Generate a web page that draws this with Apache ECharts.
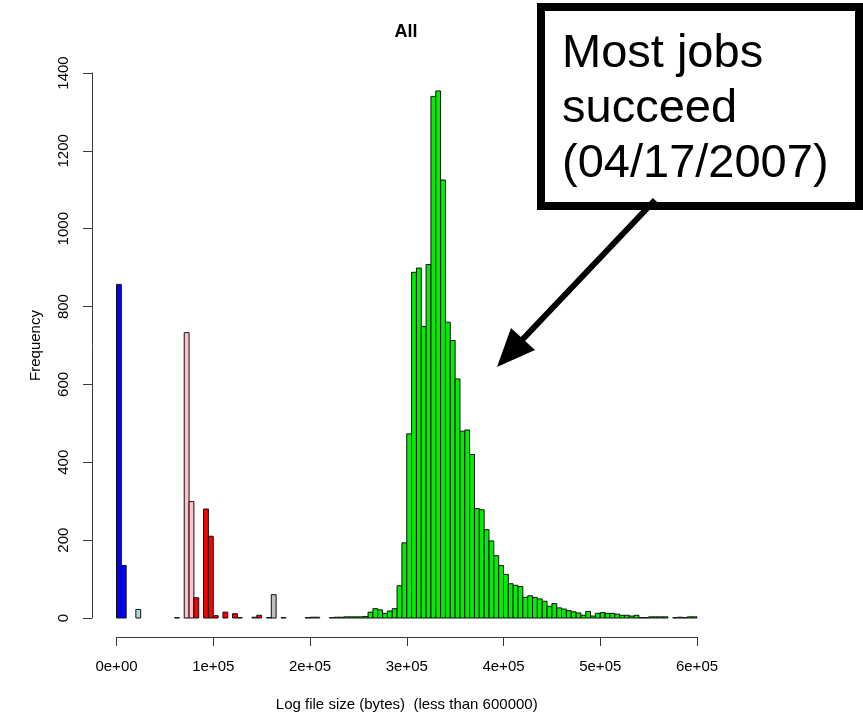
<!DOCTYPE html>
<html>
<head>
<meta charset="utf-8">
<title>All</title>
<script src="https://cdn.jsdelivr.net/npm/echarts@6/dist/echarts.min.js"></script>
<style>
  html, body { margin: 0; padding: 0; background: #ffffff; }
  #chart { width: 863px; height: 717px; }
</style>
</head>
<body>
<div id="chart"></div>
<script>
// Histogram of log file sizes, 5000-byte bins. Each pair is [bin start, count].
const binWidth = 5000;

const blueBins = [[0, 857], [5000, 135]];
const lightBlueBins = [[20000, 22]];
const pinkBins = [[70000, 733], [75000, 299]];
const redBins = [[80000, 52], [90000, 280], [95000, 210], [100000, 6], [110000, 15], [120000, 11], [145000, 7]];
const grayBins = [[160000, 60]];
const greenBins = [
  [60000, 1], [125000, 1], [140000, 2], [155000, 1], [170000, 1],
  [195000, 1], [200000, 2], [205000, 2], [220000, 1],
  [225000, 2], [230000, 2], [235000, 3], [240000, 3], [245000, 3], [250000, 3],
  [255000, 4], [260000, 15], [265000, 24], [270000, 21], [275000, 12], [280000, 18],
  [285000, 24], [290000, 83], [295000, 193], [300000, 473], [305000, 888], [310000, 899],
  [315000, 749], [320000, 908], [325000, 1340], [330000, 1354], [335000, 1125],
  [340000, 760], [345000, 713], [350000, 614], [355000, 480], [360000, 483],
  [365000, 420], [370000, 281], [375000, 278], [380000, 227], [385000, 198],
  [390000, 160], [395000, 135], [400000, 112], [405000, 88], [410000, 84],
  [415000, 81], [420000, 53], [425000, 57], [430000, 53], [435000, 49],
  [440000, 43], [445000, 30], [450000, 37], [455000, 26], [460000, 23],
  [465000, 19], [470000, 16], [475000, 13], [480000, 7], [485000, 17],
  [490000, 5], [495000, 12], [500000, 14], [505000, 12], [510000, 12],
  [515000, 10], [520000, 7], [525000, 7], [530000, 5], [535000, 7],
  [540000, 1], [545000, 1], [550000, 3], [555000, 3], [560000, 3], [565000, 3],
  [575000, 1], [580000, 2], [585000, 1], [590000, 3], [595000, 3]
];

const xTickLabels = ['0e+00', '1e+05', '2e+05', '3e+05', '4e+05', '5e+05', '6e+05'];
const yTickLabels = ['0', '200', '400', '600', '800', '1000', '1200', '1400'];

const fontFamily = '"Liberation Sans", Arial, Helvetica, sans-serif';
const axisColor = '#3a3a3a';

// Draws one histogram bin as a rectangle spanning [start, start + binWidth].
function renderBin(params, api) {
  const start = api.value(0);
  const count = api.value(1);
  if (!count) return null;
  const base = api.coord([start, 0]);
  const top = api.coord([start + binWidth, count]);
  return {
    type: 'rect',
    shape: { x: base[0], y: top[1], width: top[0] - base[0], height: base[1] - top[1] },
    style: { fill: api.visual('color'), stroke: '#111111', lineWidth: 1 }
  };
}

function binSeries(name, color, data) {
  return {
    name: name,
    type: 'custom',
    renderItem: renderBin,
    encode: { x: 0, y: 1 },
    itemStyle: { color: color },
    data: data,
    silent: true
  };
}

const chart = echarts.init(document.getElementById('chart'), null, { renderer: 'canvas' });

chart.setOption({
  backgroundColor: '#ffffff',
  animation: false,
  grid: { left: 116.5, top: 73, width: 580.5, height: 548 },
  xAxis: {
    type: 'value',
    min: 0,
    max: 600000,
    interval: 100000,
    offset: 19,
    name: 'Log file size (bytes)  (less than 600000)',
    nameLocation: 'middle',
    nameGap: 60,
    nameTextStyle: { fontFamily: fontFamily, fontSize: 15, color: '#000' },
    axisLine: { show: true, onZero: false, lineStyle: { color: axisColor, width: 1 } },
    axisTick: { show: true, length: 9, lineStyle: { color: axisColor } },
    axisLabel: {
      margin: 22,
      fontFamily: fontFamily,
      fontSize: 15,
      color: '#000',
      formatter: function (v) { return xTickLabels[Math.round(v / 100000)]; }
    },
    splitLine: { show: false }
  },
  yAxis: {
    type: 'value',
    min: 0,
    max: 1400,
    interval: 200,
    offset: 24.5,
    name: 'Frequency',
    nameLocation: 'middle',
    nameGap: 49,
    nameRotate: 90,
    nameTextStyle: { fontFamily: fontFamily, fontSize: 15, color: '#000' },
    axisLine: { show: true, onZero: false, lineStyle: { color: axisColor, width: 1 } },
    axisTick: { show: true, length: 9, lineStyle: { color: axisColor } },
    axisLabel: {
      rotate: 90,
      margin: 21,
      fontFamily: fontFamily,
      fontSize: 15,
      color: '#000',
      formatter: function (v) { return yTickLabels[Math.round(v / 200)]; }
    },
    splitLine: { show: false }
  },
  series: [
    binSeries('small', '#0000ff', blueBins),
    binSeries('small-2', '#add8e6', lightBlueBins),
    binSeries('medium', '#ffc0cb', pinkBins),
    binSeries('failed', '#ff0000', redBins),
    binSeries('other', '#bebebe', grayBins),
    binSeries('succeeded', '#00ee00', greenBins)
  ],
  graphic: [
    {
      type: 'text',
      x: 406,
      y: 32,
      style: {
        text: 'All',
        font: 'bold 18px ' + fontFamily,
        fill: '#000000',
        textAlign: 'center',
        textVerticalAlign: 'middle'
      }
    },
    {
      type: 'rect',
      shape: { x: 541, y: 7, width: 318, height: 199 },
      style: { fill: '#ffffff', stroke: '#000000', lineWidth: 8 },
      z: 10
    },
    {
      type: 'text',
      x: 562,
      y: 27,
      style: {
        text: 'Most jobs\nsucceed\n(04/17/2007)',
        font: '47px ' + fontFamily,
        lineHeight: 55,
        fill: '#000000'
      },
      z: 11
    },
    {
      type: 'line',
      shape: { x1: 655, y1: 200, x2: 522, y2: 340 },
      style: { stroke: '#000000', lineWidth: 6 },
      z: 10
    },
    {
      type: 'polygon',
      shape: { points: [[497, 367], [535, 350], [511, 328]] },
      style: { fill: '#000000' },
      z: 10
    }
  ]
});
</script>
</body>
</html>
